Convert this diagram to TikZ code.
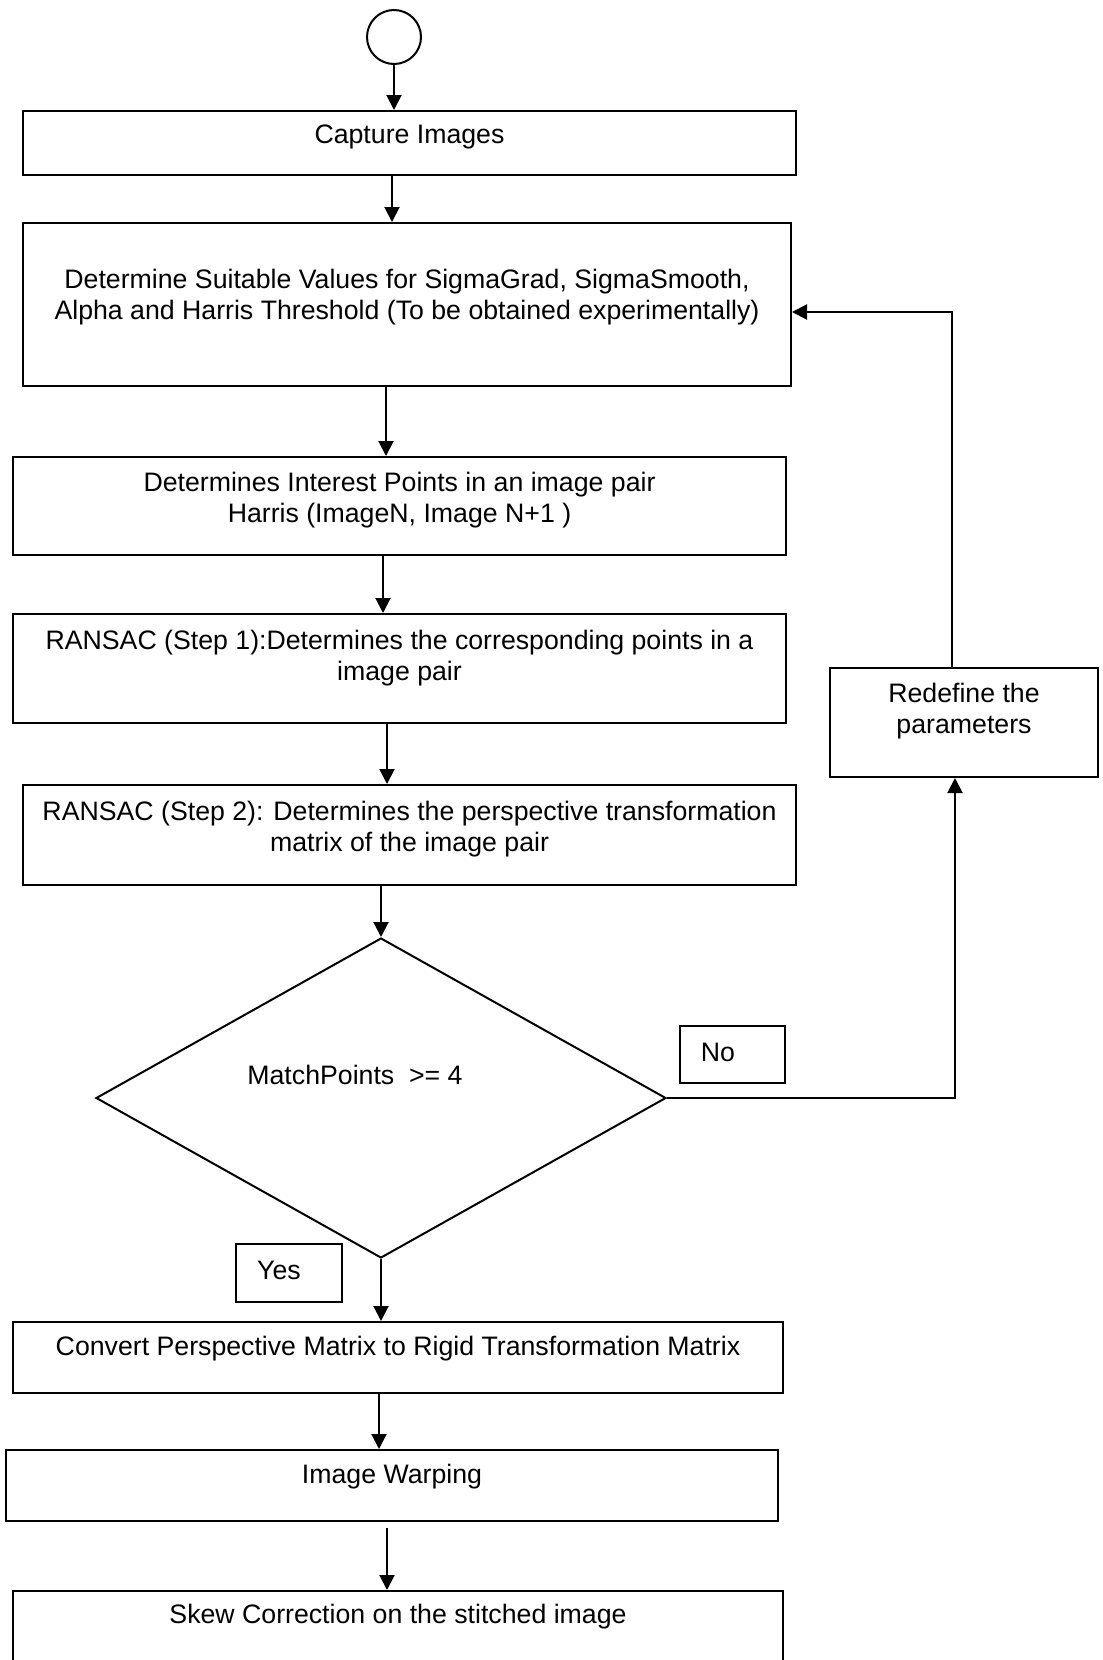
\documentclass[tikz,border=0pt]{standalone}
\usepackage{fontspec}
\setmainfont{Liberation Sans}
\usetikzlibrary{arrows.meta,shapes.geometric}

\tikzset{
  flowbox/.style={draw, line width=2pt, inner sep=0pt},
  flowtext/.style={align=center, inner sep=0pt, font=\fontsize{26.7}{31}\selectfont},
  flowarrow/.style={line width=2pt, -{Triangle[length=15pt,width=15pt]}},
}

\begin{document}
\begin{tikzpicture}[x=1pt,y=-1pt]
        \clip (0,0) rectangle (1103,1660);

        % main column
        \node[flowbox, circle, minimum size=54pt] (start) at (394,37) {};

        \node[flowbox, minimum width=773pt, minimum height=64pt] (capture) at (409.5,143) {};
        \node[flowtext] (captureT) at (409.5,137) {Capture Images};

        \node[flowbox, minimum width=768pt, minimum height=163pt] (param) at (407,304.5) {};
        \node[flowtext] (paramT) at (407,297) {Determine Suitable Values for SigmaGrad, SigmaSmooth,\\Alpha and Harris Threshold (To be obtained experimentally)};

        \node[flowbox, minimum width=773pt, minimum height=98pt] (harris) at (399.5,506) {};
        \node[flowtext] (harrisT) at (399.5,500) {Determines Interest Points in an image pair\\Harris (ImageN, Image N+1 )};

        \node[flowbox, minimum width=773pt, minimum height=109pt] (ransaca) at (399.5,668.5) {};
        \node[flowtext] (ransacaT) at (399.5,658) {RANSAC (Step 1):Determines the corresponding points in a\\image pair};

        \node[flowbox, minimum width=773pt, minimum height=100pt] (ransacb) at (409.5,835) {};
        \node[flowtext] (ransacbT) at (409.5,829) {RANSAC (Step 2): Determines the perspective transformation\\matrix of the image pair};

        \node[flowbox, diamond, minimum width=570pt, minimum height=320pt] (dec) at (381,1098) {};
        \node[flowtext] (decT) at (355,1075) {MatchPoints\ \ >= 4};

        \node[flowbox, minimum width=105pt, minimum height=57pt] (no) at (732.5,1054.5) {};
        \node[flowtext] (noT) at (718,1052) {No};

        \node[flowbox, minimum width=106pt, minimum height=58pt] (yes) at (289,1273) {};
        \node[flowtext] (yesT) at (279,1270) {Yes};

        \node[flowbox, minimum width=770pt, minimum height=71pt] (convert) at (398,1357.5) {};
        \node[flowtext] (convertT) at (398,1349) {Convert Perspective Matrix to Rigid Transformation Matrix};

        \node[flowbox, minimum width=772pt, minimum height=71pt] (warp) at (392,1485.5) {};
        \node[flowtext] (warpT) at (392,1477) {Image Warping};

        \node[flowbox, minimum width=770pt, minimum height=109pt] (skew) at (398,1645.5) {};
        \node[flowtext] (skewT) at (398,1617) {Skew Correction on the stitched image};

        % side branch
        \node[flowbox, minimum width=268pt, minimum height=109pt] (redef) at (964,722.5) {};
        \node[flowtext] (redefT) at (964,711) {Redefine the\\parameters};

        \coordinate (noturn) at (955,1098);
        \coordinate (upturn) at (952,312);

        % connectors
        \draw[flowarrow] (start.south) -- (start.south |- capture.north);
        \draw[flowarrow] ([xshift=-17.5pt]capture.south) -- ([xshift=-17.5pt]capture.south |- param.north);
        \draw[flowarrow] ([xshift=-21pt]param.south) -- ([xshift=-21pt]param.south |- harris.north);
        \draw[flowarrow] ([xshift=-16.5pt]harris.south) -- ([xshift=-16.5pt]harris.south |- ransaca.north);
        \draw[flowarrow] ([xshift=-12.5pt]ransaca.south) -- ([xshift=-12.5pt]ransaca.south |- ransacb.north);
        \draw[flowarrow] (dec.north |- ransacb.south) -- (dec.north);
        \draw[flowarrow] (dec.south) -- (dec.south |- convert.north);
        \draw[flowarrow] ([xshift=-19pt]convert.south) -- ([xshift=-19pt]convert.south |- warp.north);
        \draw[flowarrow] ([xshift=-5pt,yshift=-6pt]warp.south) -- ([xshift=-5pt]warp.south |- skew.north);

        \draw[flowarrow] (dec.east) -- (noturn) -- (noturn |- redef.south);
        \draw[flowarrow] (upturn |- redef.north) -- (upturn) -- (upturn -| param.east);
\end{tikzpicture}
\end{document}
